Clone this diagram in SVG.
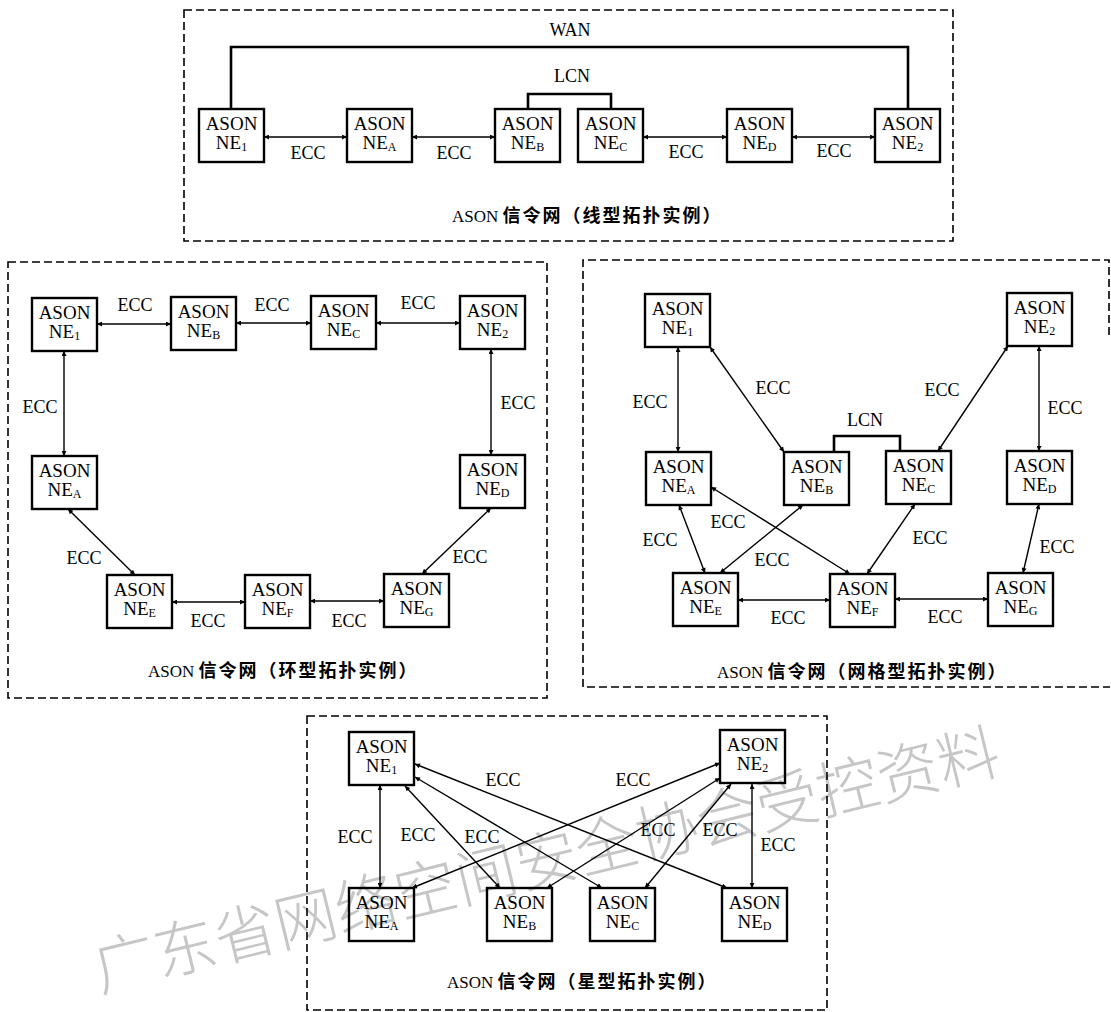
<svg xmlns="http://www.w3.org/2000/svg" width="1111" height="1012" viewBox="0 0 1111 1012">
<style>
.panel{fill:none;stroke:#000;stroke-width:1.6;stroke-dasharray:8 4}
.box{fill:none;stroke:#000;stroke-width:2.4}
.nt{font-family:"Liberation Serif","Times New Roman",serif;font-size:19px;text-anchor:middle;fill:#000}
.sub{font-size:12px}
.lbl{font-family:"Liberation Serif","Times New Roman",serif;font-size:18px;text-anchor:middle;fill:#000}
.cap{font-family:"Liberation Serif",serif;font-size:17px;fill:#000}
.capz{font-family:"Noto Sans CJK SC","Noto Sans",sans-serif;font-size:18px;font-weight:bold;letter-spacing:2px}
.ecc{fill:none;stroke:#000;stroke-width:1.4;marker-start:url(#ah);marker-end:url(#ah)}
.bus{fill:none;stroke:#000;stroke-width:2.6}
.wm{font-family:"Noto Sans CJK SC",sans-serif;font-size:62px;fill:#c6c6c6;font-weight:300}
</style>
<defs>
<marker id="ah" viewBox="0 0 10 10" refX="10" refY="5" markerWidth="10" markerHeight="5" markerUnits="userSpaceOnUse" orient="auto-start-reverse">
<path d="M0,0 L10,5 L0,10 z" fill="#000"/>
</marker>
</defs>
<rect width="1111" height="1012" fill="#fff"/>

<text class="wm" x="100" y="992" transform="rotate(-13.7 100 992)">广东省网络空间安全协会受控资料</text>

<g id="panels">
<rect class="panel" x="184" y="10" width="769" height="231"/>
<rect class="panel" x="8" y="262" width="539" height="436"/>
<path class="panel" d="M1109,335 V260 H583 V687 H1110"/>
<rect class="panel" x="307" y="716" width="520" height="294"/>
</g>

<g id="connectors">
<path class="bus" d="M231,109 V47 H908 V109"/>
<path class="bus" d="M528,109 V94 H611 V109"/>
<line class="ecc" x1="264" y1="137" x2="347" y2="137"/>
<line class="ecc" x1="412" y1="137" x2="495" y2="137"/>
<line class="ecc" x1="643" y1="137" x2="727" y2="137"/>
<line class="ecc" x1="792" y1="137" x2="875" y2="137"/>
<line class="ecc" x1="97" y1="324" x2="171" y2="324"/>
<line class="ecc" x1="236" y1="323" x2="311" y2="323"/>
<line class="ecc" x1="376" y1="323" x2="460" y2="323"/>
<line class="ecc" x1="64" y1="351" x2="64" y2="456"/>
<line class="ecc" x1="491" y1="349" x2="491" y2="455"/>
<line class="ecc" x1="68" y1="509" x2="135" y2="575"/>
<line class="ecc" x1="491" y1="508" x2="422" y2="574"/>
<line class="ecc" x1="172" y1="602" x2="245" y2="602"/>
<line class="ecc" x1="310" y1="601" x2="384" y2="601"/>
<line class="ecc" x1="678" y1="347" x2="678" y2="452"/>
<line class="ecc" x1="710" y1="347" x2="784" y2="452"/>
<path class="bus" d="M834,452 V436 H900 V451"/>
<line class="ecc" x1="1008" y1="346" x2="938" y2="451"/>
<line class="ecc" x1="1039" y1="346" x2="1039" y2="451"/>
<line class="ecc" x1="679" y1="505" x2="705" y2="573"/>
<line class="ecc" x1="711" y1="487" x2="850" y2="574"/>
<line class="ecc" x1="803" y1="505" x2="720" y2="573"/>
<line class="ecc" x1="915" y1="504" x2="867" y2="574"/>
<line class="ecc" x1="1039" y1="504" x2="1023" y2="573"/>
<line class="ecc" x1="738" y1="600" x2="830" y2="600"/>
<line class="ecc" x1="895" y1="599" x2="988" y2="599"/>
<line class="ecc" x1="380" y1="785" x2="380" y2="888"/>
<line class="ecc" x1="405" y1="786" x2="500" y2="888"/>
<line class="ecc" x1="415" y1="777" x2="602" y2="888"/>
<line class="ecc" x1="415" y1="764" x2="727" y2="888"/>
<line class="ecc" x1="720" y1="763" x2="412" y2="888"/>
<line class="ecc" x1="720" y1="778" x2="547" y2="888"/>
<line class="ecc" x1="731" y1="784" x2="645" y2="888"/>
<line class="ecc" x1="752" y1="784" x2="752" y2="888"/>
</g>

<g id="labels">
<text class="lbl" x="570" y="36">WAN</text>
<text class="lbl" x="572" y="82">LCN</text>
<text class="lbl" x="308" y="159">ECC</text>
<text class="lbl" x="454" y="159">ECC</text>
<text class="lbl" x="686" y="158">ECC</text>
<text class="lbl" x="834" y="157">ECC</text>
<text class="lbl" x="135" y="311">ECC</text>
<text class="lbl" x="272" y="311">ECC</text>
<text class="lbl" x="418" y="309">ECC</text>
<text class="lbl" x="40" y="413">ECC</text>
<text class="lbl" x="518" y="409">ECC</text>
<text class="lbl" x="84" y="564">ECC</text>
<text class="lbl" x="470" y="563">ECC</text>
<text class="lbl" x="208" y="627">ECC</text>
<text class="lbl" x="349" y="627">ECC</text>
<text class="lbl" x="650" y="408">ECC</text>
<text class="lbl" x="773" y="394">ECC</text>
<text class="lbl" x="865" y="426">LCN</text>
<text class="lbl" x="942" y="396">ECC</text>
<text class="lbl" x="1065" y="414">ECC</text>
<text class="lbl" x="660" y="546">ECC</text>
<text class="lbl" x="728" y="528">ECC</text>
<text class="lbl" x="772" y="566">ECC</text>
<text class="lbl" x="930" y="544">ECC</text>
<text class="lbl" x="1057" y="553">ECC</text>
<text class="lbl" x="788" y="624">ECC</text>
<text class="lbl" x="945" y="623">ECC</text>
<text class="lbl" x="355" y="843">ECC</text>
<text class="lbl" x="418" y="841">ECC</text>
<text class="lbl" x="482" y="843">ECC</text>
<text class="lbl" x="503" y="786">ECC</text>
<text class="lbl" x="633" y="786">ECC</text>
<text class="lbl" x="658" y="836">ECC</text>
<text class="lbl" x="720" y="836">ECC</text>
<text class="lbl" x="778" y="851">ECC</text>
</g>

<g id="captions">
<text class="cap" x="452" y="222">ASON <tspan class="capz">信令网（线型拓扑实例）</tspan></text>
<text class="cap" x="148" y="677">ASON <tspan class="capz">信令网（环型拓扑实例）</tspan></text>
<text class="cap" x="717" y="678">ASON <tspan class="capz">信令网（网格型拓扑实例）</tspan></text>
<text class="cap" x="447" y="988">ASON <tspan class="capz">信令网（星型拓扑实例）</tspan></text>
</g>

<g id="l-ne1"><rect class="box" x="199" y="109" width="65" height="53"/><text class="nt" x="231.5" y="130">ASON</text><text class="nt" x="231.5" y="149">NE<tspan class="sub" dy="2">1</tspan></text></g>
<g id="l-nea"><rect class="box" x="347" y="109" width="65" height="53"/><text class="nt" x="379.5" y="130">ASON</text><text class="nt" x="379.5" y="149">NE<tspan class="sub" dy="2">A</tspan></text></g>
<g id="l-neb"><rect class="box" x="495" y="109" width="65" height="53"/><text class="nt" x="527.5" y="130">ASON</text><text class="nt" x="527.5" y="149">NE<tspan class="sub" dy="2">B</tspan></text></g>
<g id="l-nec"><rect class="box" x="578" y="109" width="65" height="53"/><text class="nt" x="610.5" y="130">ASON</text><text class="nt" x="610.5" y="149">NE<tspan class="sub" dy="2">C</tspan></text></g>
<g id="l-ned"><rect class="box" x="727" y="109" width="65" height="53"/><text class="nt" x="759.5" y="130">ASON</text><text class="nt" x="759.5" y="149">NE<tspan class="sub" dy="2">D</tspan></text></g>
<g id="l-ne2"><rect class="box" x="875" y="109" width="65" height="53"/><text class="nt" x="907.5" y="130">ASON</text><text class="nt" x="907.5" y="149">NE<tspan class="sub" dy="2">2</tspan></text></g>

<g id="r-ne1"><rect class="box" x="32" y="298" width="65" height="53"/><text class="nt" x="64.5" y="319">ASON</text><text class="nt" x="64.5" y="338">NE<tspan class="sub" dy="2">1</tspan></text></g>
<g id="r-neb"><rect class="box" x="171" y="297" width="65" height="53"/><text class="nt" x="203.5" y="318">ASON</text><text class="nt" x="203.5" y="337">NE<tspan class="sub" dy="2">B</tspan></text></g>
<g id="r-nec"><rect class="box" x="311" y="296" width="65" height="53"/><text class="nt" x="343.5" y="317">ASON</text><text class="nt" x="343.5" y="336">NE<tspan class="sub" dy="2">C</tspan></text></g>
<g id="r-ne2"><rect class="box" x="460" y="296" width="65" height="53"/><text class="nt" x="492.5" y="317">ASON</text><text class="nt" x="492.5" y="336">NE<tspan class="sub" dy="2">2</tspan></text></g>
<g id="r-nea"><rect class="box" x="32" y="456" width="65" height="53"/><text class="nt" x="64.5" y="477">ASON</text><text class="nt" x="64.5" y="496">NE<tspan class="sub" dy="2">A</tspan></text></g>
<g id="r-ned"><rect class="box" x="460" y="455" width="65" height="53"/><text class="nt" x="492.5" y="476">ASON</text><text class="nt" x="492.5" y="495">NE<tspan class="sub" dy="2">D</tspan></text></g>
<g id="r-nee"><rect class="box" x="107" y="575" width="65" height="53"/><text class="nt" x="139.5" y="596">ASON</text><text class="nt" x="139.5" y="615">NE<tspan class="sub" dy="2">E</tspan></text></g>
<g id="r-nef"><rect class="box" x="245" y="575" width="65" height="53"/><text class="nt" x="277.5" y="596">ASON</text><text class="nt" x="277.5" y="615">NE<tspan class="sub" dy="2">F</tspan></text></g>
<g id="r-neg"><rect class="box" x="384" y="574" width="65" height="53"/><text class="nt" x="416.5" y="595">ASON</text><text class="nt" x="416.5" y="614">NE<tspan class="sub" dy="2">G</tspan></text></g>

<g id="m-ne1"><rect class="box" x="645" y="294" width="65" height="53"/><text class="nt" x="677.5" y="315">ASON</text><text class="nt" x="677.5" y="334">NE<tspan class="sub" dy="2">1</tspan></text></g>
<g id="m-nea"><rect class="box" x="646" y="452" width="65" height="53"/><text class="nt" x="678.5" y="473">ASON</text><text class="nt" x="678.5" y="492">NE<tspan class="sub" dy="2">A</tspan></text></g>
<g id="m-neb"><rect class="box" x="784" y="452" width="65" height="53"/><text class="nt" x="816.5" y="473">ASON</text><text class="nt" x="816.5" y="492">NE<tspan class="sub" dy="2">B</tspan></text></g>
<g id="m-nec"><rect class="box" x="886" y="451" width="65" height="53"/><text class="nt" x="918.5" y="472">ASON</text><text class="nt" x="918.5" y="491">NE<tspan class="sub" dy="2">C</tspan></text></g>
<g id="m-ne2"><rect class="box" x="1007" y="293" width="65" height="53"/><text class="nt" x="1039.5" y="314">ASON</text><text class="nt" x="1039.5" y="333">NE<tspan class="sub" dy="2">2</tspan></text></g>
<g id="m-ned"><rect class="box" x="1007" y="451" width="65" height="53"/><text class="nt" x="1039.5" y="472">ASON</text><text class="nt" x="1039.5" y="491">NE<tspan class="sub" dy="2">D</tspan></text></g>
<g id="m-nee"><rect class="box" x="673" y="573" width="65" height="53"/><text class="nt" x="705.5" y="594">ASON</text><text class="nt" x="705.5" y="613">NE<tspan class="sub" dy="2">E</tspan></text></g>
<g id="m-nef"><rect class="box" x="830" y="574" width="65" height="53"/><text class="nt" x="862.5" y="595">ASON</text><text class="nt" x="862.5" y="614">NE<tspan class="sub" dy="2">F</tspan></text></g>
<g id="m-neg"><rect class="box" x="988" y="573" width="65" height="53"/><text class="nt" x="1020.5" y="594">ASON</text><text class="nt" x="1020.5" y="613">NE<tspan class="sub" dy="2">G</tspan></text></g>

<g id="s-ne1"><rect class="box" x="349" y="732" width="65" height="53"/><text class="nt" x="381.5" y="753">ASON</text><text class="nt" x="381.5" y="772">NE<tspan class="sub" dy="2">1</tspan></text></g>
<g id="s-ne2"><rect class="box" x="720" y="730" width="65" height="53"/><text class="nt" x="752.5" y="751">ASON</text><text class="nt" x="752.5" y="770">NE<tspan class="sub" dy="2">2</tspan></text></g>
<g id="s-nea"><rect class="box" x="349" y="888" width="65" height="53"/><text class="nt" x="381.5" y="909">ASON</text><text class="nt" x="381.5" y="928">NE<tspan class="sub" dy="2">A</tspan></text></g>
<g id="s-neb"><rect class="box" x="487" y="888" width="65" height="53"/><text class="nt" x="519.5" y="909">ASON</text><text class="nt" x="519.5" y="928">NE<tspan class="sub" dy="2">B</tspan></text></g>
<g id="s-nec"><rect class="box" x="590" y="888" width="65" height="53"/><text class="nt" x="622.5" y="909">ASON</text><text class="nt" x="622.5" y="928">NE<tspan class="sub" dy="2">C</tspan></text></g>
<g id="s-ned"><rect class="box" x="722" y="888" width="65" height="53"/><text class="nt" x="754.5" y="909">ASON</text><text class="nt" x="754.5" y="928">NE<tspan class="sub" dy="2">D</tspan></text></g>
</svg>
